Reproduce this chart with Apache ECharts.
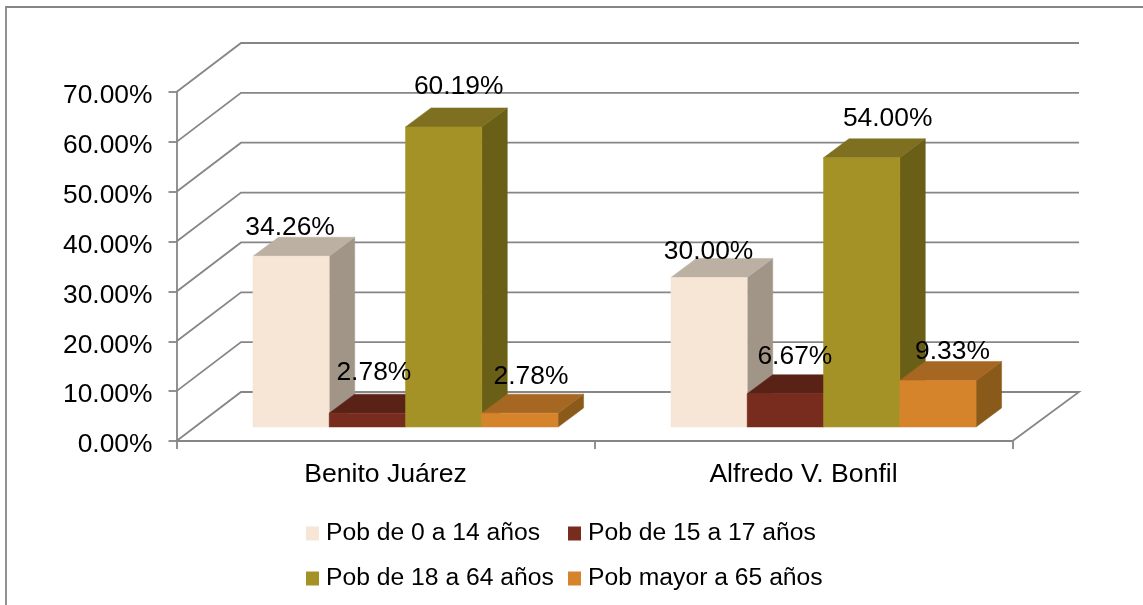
<!DOCTYPE html>
<html><head><meta charset="utf-8">
<style>html,body{margin:0;padding:0;background:#fff}#c{width:1143px;height:605px}</style>
<script src="https://cdn.jsdelivr.net/npm/echarts@6/dist/echarts.min.js"></script>
</head><body><div id="c"></div>
<script>
const categories = ['Benito Juárez', 'Alfredo V. Bonfil'];
const seriesNames = ['Pob de 0 a 14 años', 'Pob de 15 a 17 años', 'Pob de 18 a 64 años', 'Pob mayor a 65 años'];
const pob0a14 = [34.26, 30.00];
const pob15a17 = [2.78, 6.67];
const pob18a64 = [60.19, 54.00];
const pobMayor65 = [2.78, 9.33];
const yTicks = [0, 10, 20, 30, 40, 50, 60, 70];

const frontColors = ['#F7E6D6', '#772C1E', '#A49227', '#D6842C'];
const topColors = ['#BBB0A1', '#5A2216', '#7E7020', '#A66722'];
const sideColors = ['#A09586', '#4A1C12', '#6A5F17', '#8A5A1B'];
const labelShiftX = [[-1, 6.5, 15, 11], [-0.5, 9.5, 26, 14.5]];
const labelShiftY = [[-9, -21, -21, -17], [-7, -18, -20, -10]];

const AXIS = '#868686';
const FONT = 'Liberation Sans, Arial, sans-serif';
const WALL = [64.5, 49];
const WALL_RIGHT_EXTRA = 2;
const NEAR = [20, 14];
const FAR = [45.5, 33];
const BAR_FRAC = 0.1825;

function wallItem(params, api) {
  const v = api.value(1);
  const half = api.size([1, 0])[0] / 2;
  const c0 = api.coord([0, v]);
  const c1 = api.coord([categories.length - 1, v]);
  const x0 = c0[0] - half, x1 = c1[0] + half, y = c0[1];
  const pts = [[x0, y], [x0 + WALL[0], y - WALL[1]], [x1 + WALL[0] + WALL_RIGHT_EXTRA, y - WALL[1]]];
  if (v === 0) pts.push([x1, y]);
  return {type: 'polyline', shape: {points: pts},
    style: {stroke: AXIS, lineWidth: 1.8, fill: null}, silent: true};
}

function barRenderer(s) {
  return function (params, api) {
    const i = api.value(0), v = api.value(1);
    const w = api.size([1, 0])[0] * BAR_FRAC;
    const base = api.coord([i, 0]), top = api.coord([i, v]);
    const xl = base[0] + (s - 2) * w, xr = xl + w;
    const yb = base[1], yt = top[1];
    const P = (x, y, o) => [x + o[0], y - o[1]];
    const face = (pts, color) => ({type: 'polygon', shape: {points: pts},
      style: {fill: color, stroke: color, lineWidth: 0.5}});
    const kids = [
      face([P(xr, yb, NEAR), P(xr, yb, FAR), P(xr, yt, FAR), P(xr, yt, NEAR)], sideColors[s]),
      face([P(xl, yt, NEAR), P(xr, yt, NEAR), P(xr, yt, FAR), P(xl, yt, FAR)], topColors[s]),
      face([P(xl, yb, NEAR), P(xr, yb, NEAR), P(xr, yt, NEAR), P(xl, yt, NEAR)], frontColors[s]),
      {type: 'text', z2: 100, silent: true,
        x: (xl + xr) / 2 + NEAR[0] + labelShiftX[i][s],
        y: yt - FAR[1] + labelShiftY[i][s],
        style: {text: v.toFixed(2) + '%', font: '26.4px ' + FONT, fill: '#000',
          align: 'center', verticalAlign: 'middle'}}
    ];
    return {type: 'group', children: kids};
  };
}

const seriesValues = [pob0a14, pob15a17, pob18a64, pobMayor65];
const barSeries = seriesValues.map((vals, s) => ({
  type: 'custom', name: seriesNames[s], renderItem: barRenderer(s),
  itemStyle: {color: frontColors[s]}, encode: {x: 0, y: 1},
  data: vals.map((v, i) => [i, v]), animation: false
}));

const legendBase = {orient: 'vertical', icon: 'rect', itemWidth: 13, itemHeight: 14, itemGap: 20, padding: 0,
  selectedMode: false, textStyle: {fontFamily: FONT, fontSize: 24.7, color: '#000', padding: [0, 0, 0, 2]}};

const chart = echarts.init(document.getElementById('c'), null, {renderer: 'canvas'});
chart.setOption({
  animation: false,
  backgroundColor: '#fff',
  graphic: [{type: 'rect', shape: {x: 6, y: 7, width: 1200, height: 700}, silent: true,
    style: {fill: null, stroke: AXIS, lineWidth: 1.8}, z: 0}],
  grid: {left: 176.5, right: 130.5, top: 92, bottom: 164},
  legend: [
    Object.assign({}, legendBase, {left: 306, top: 521, data: [seriesNames[0], seriesNames[2]]}),
    Object.assign({}, legendBase, {left: 568, top: 521, data: [seriesNames[1], seriesNames[3]]})
  ],
  xAxis: {type: 'category', data: categories,
    axisLine: {lineStyle: {color: AXIS, width: 1.8}},
    axisTick: {show: true, length: 8, lineStyle: {color: AXIS, width: 1.8}},
    axisLabel: {fontFamily: FONT, fontSize: 26.6, color: '#000', margin: 20},
    splitLine: {show: false}},
  yAxis: {type: 'value', min: 0, max: 70, interval: 10,
    axisLine: {show: true, lineStyle: {color: AXIS, width: 1.8}},
    axisTick: {show: true, length: 8, lineStyle: {color: AXIS, width: 1.8}},
    axisLabel: {color: '#000', margin: 24,
      formatter: v => '{t|' + v.toFixed(2) + '%}',
      rich: {t: {fontFamily: FONT, fontSize: 26.4, color: '#000', padding: [8, 0, 0, 0]}}},
    splitLine: {show: false}},
  series: [{type: 'custom', name: 'walls', renderItem: wallItem, encode: {x: 0, y: 1}, silent: true,
    data: yTicks.map(v => [0, v]), animation: false, z: 1}].concat(barSeries)
});
</script></body></html>
